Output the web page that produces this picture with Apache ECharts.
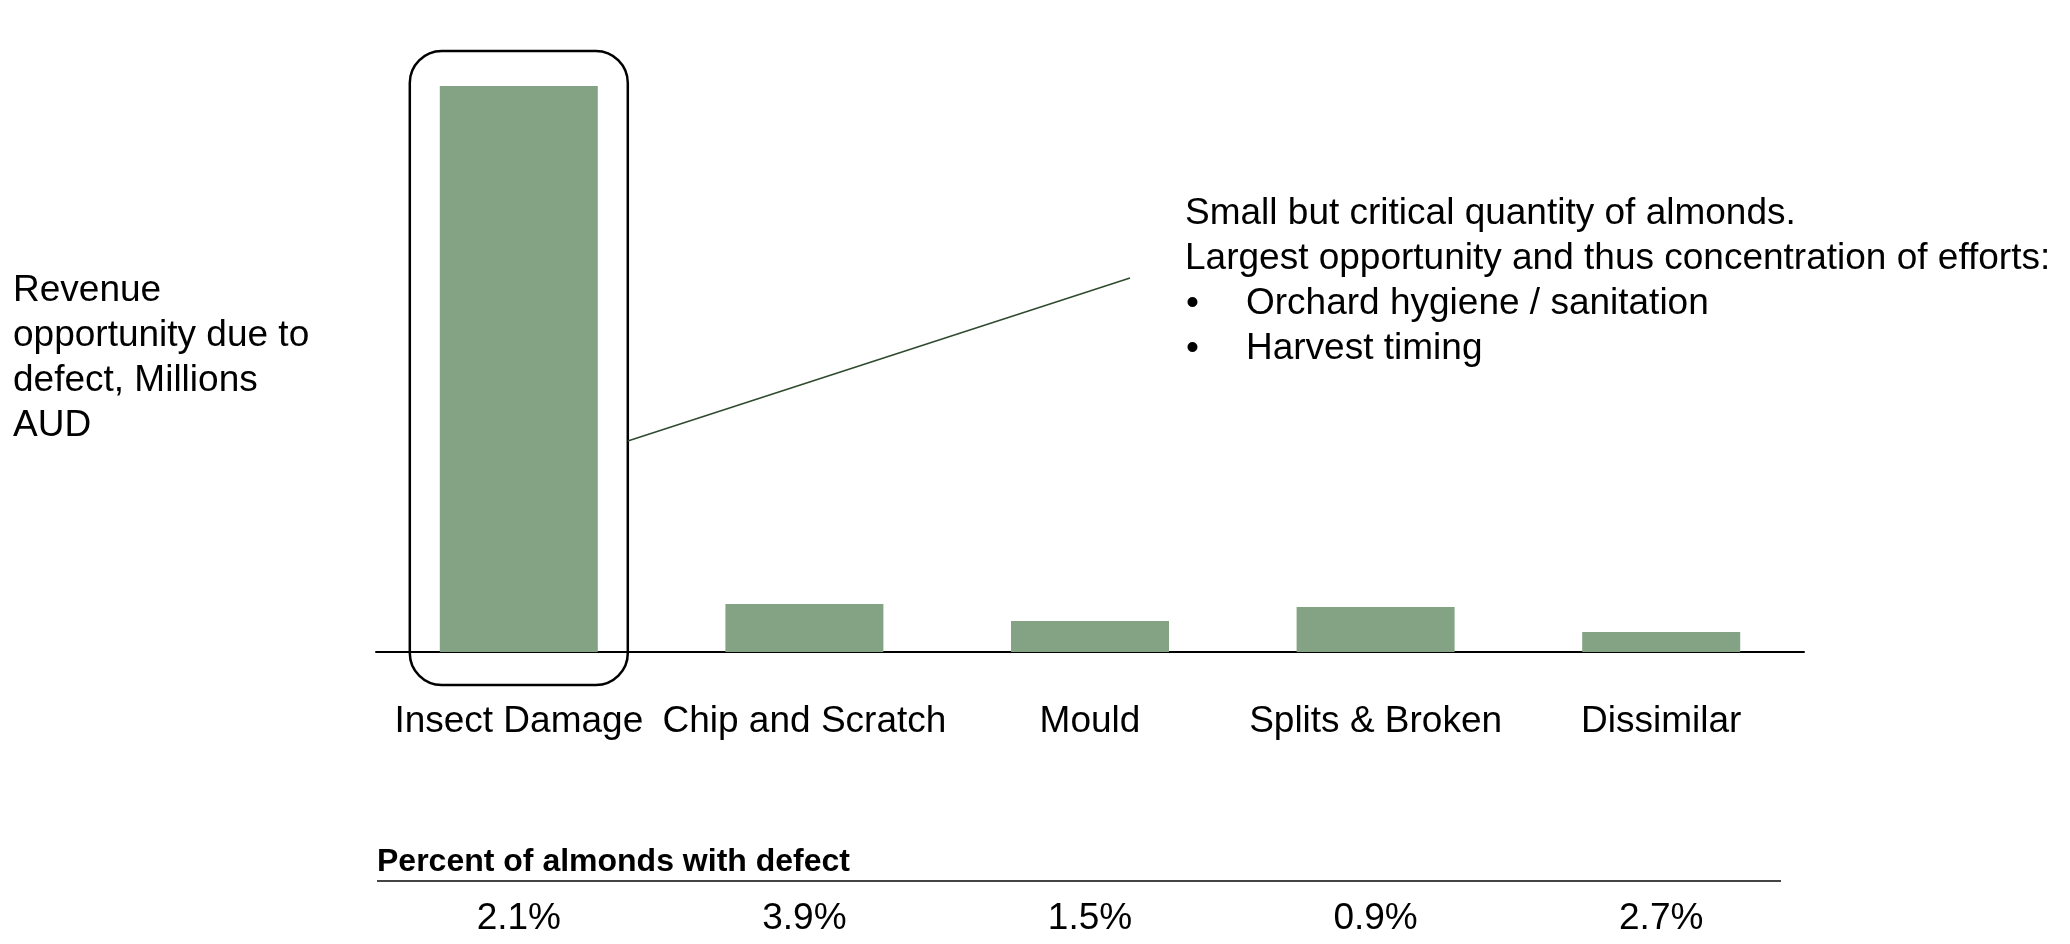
<!DOCTYPE html>
<html>
<head>
<meta charset="utf-8">
<script src="https://cdn.jsdelivr.net/npm/echarts@6/dist/echarts.min.js"></script>
<style>
  html, body { margin: 0; padding: 0; background: #fff; }
  #chart { width: 2070px; height: 944px; }
</style>
</head>
<body>
<div id="chart"></div>
<script>
// categories and values
const defects = ['Insect Damage', 'Chip and Scratch', 'Mould', 'Splits & Broken', 'Dissimilar']
const revenue = [28.3, 2.4, 1.55, 2.25, 1.0]   // Millions AUD
const pctWithDefect = ['2.1%', '3.9%', '1.5%', '0.9%', '2.7%']

const noteLines = [
  'Small but critical quantity of almonds.',
  'Largest opportunity and thus concentration of efforts:'
]
const noteBullets = ['Orchard hygiene / sanitation', 'Harvest timing']

const FONT = '"Liberation Sans", Arial, sans-serif'
const BAR_COLOR = '#84a284'

const chart = echarts.init(document.getElementById('chart'))

chart.setOption({
  animation: false,
  backgroundColor: '#fff',
  grid: { left: 376, right: 266, top: 86, bottom: 292 },
  xAxis: [
    {
      type: 'category',
      data: defects,
      axisLine: { lineStyle: { color: '#000', width: 2 } },
      axisTick: { show: false },
      axisLabel: { color: '#000', fontFamily: FONT, fontSize: 37, margin: 51, interval: 0 }
    },
    {
      // percent row under the chart, shares the category scale
      type: 'category',
      data: pctWithDefect,
      position: 'bottom',
      offset: 248,
      axisLine: { show: false },
      axisTick: { show: false },
      axisLabel: { color: '#000', fontFamily: FONT, fontSize: 37, margin: 0, interval: 0 }
    }
  ],
  yAxis: {
    type: 'value',
    min: 0,
    max: 28.3,
    show: false
  },
  series: [{
    type: 'bar',
    data: revenue,
    barWidth: 158,
    itemStyle: { color: BAR_COLOR },
    silent: true
  }]
})

// annotations positioned from the chart scales
const cx = chart.convertToPixel({ xAxisIndex: 0 }, defects[0])
const topY = chart.convertToPixel({ yAxisIndex: 0 }, revenue[0])
const baseY = chart.convertToPixel({ yAxisIndex: 0 }, 0)

const boxL = cx - 109
const boxR = cx + 109
const boxT = topY - 35
const boxB = baseY + 33

const textStyle = { fill: '#000', font: '37px ' + FONT }

chart.setOption({
  graphic: [
    {
      type: 'rect',
      shape: { x: boxL, y: boxT, width: boxR - boxL, height: boxB - boxT, r: 32 },
      style: { fill: 'none', stroke: '#000', lineWidth: 2.5 }
    },
    {
      type: 'line',
      shape: { x1: boxR, y1: 441, x2: 1130, y2: 278 },
      style: { stroke: '#2e4a2e', lineWidth: 1.5 }
    },
    // y axis title on the left
    {
      type: 'text',
      left: 13, top: 268,
      style: {
        text: 'Revenue\nopportunity due to\ndefect, Millions\nAUD',
        fill: '#000', font: '37px ' + FONT, lineHeight: 45
      }
    },
    // callout text
    {
      type: 'text', left: 1185, top: 195,
      style: Object.assign({ text: noteLines[0] }, textStyle)
    },
    {
      type: 'text', left: 1185, top: 240,
      style: Object.assign({ text: noteLines[1] }, textStyle)
    },
    {
      type: 'text', left: 1186, top: 285,
      style: Object.assign({ text: '\u2022' }, textStyle)
    },
    {
      type: 'text', left: 1246, top: 285,
      style: Object.assign({ text: noteBullets[0] }, textStyle)
    },
    {
      type: 'text', left: 1186, top: 330,
      style: Object.assign({ text: '\u2022' }, textStyle)
    },
    {
      type: 'text', left: 1246, top: 330,
      style: Object.assign({ text: noteBullets[1] }, textStyle)
    },
    // percent table header
    {
      type: 'text', left: 377, top: 846,
      style: { text: 'Percent of almonds with defect', fill: '#000', font: 'bold 32px ' + FONT }
    },
    {
      type: 'line',
      shape: { x1: 377, y1: 881, x2: 1781, y2: 881 },
      style: { stroke: '#444', lineWidth: 2 }
    }
  ]
})
</script>
</body>
</html>
